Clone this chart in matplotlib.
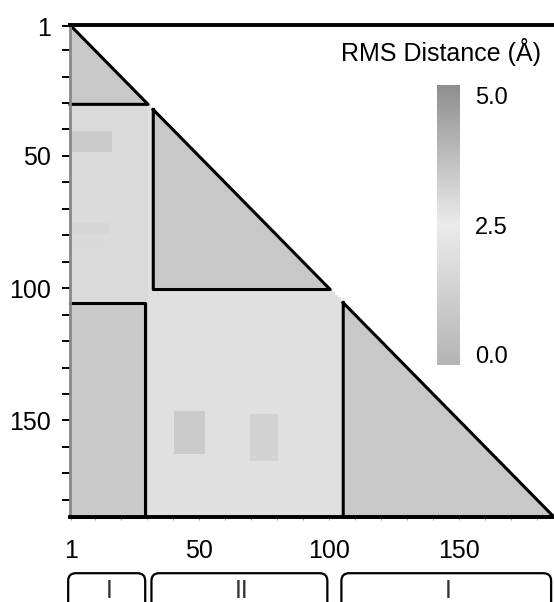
import numpy as np
import matplotlib
matplotlib.use("Agg")
import matplotlib.pyplot as plt
from matplotlib.colors import LinearSegmentedColormap, Normalize
from matplotlib.patches import FancyBboxPatch
from matplotlib.ticker import MultipleLocator

plt.rcParams["font.family"] = ["Liberation Sans", "DejaVu Sans"]

# Residues and domain layout (domain I is split: N-term + C-term)
n_res = 186
domain_labels = ["I", "II", "I"]
domain_start = [1, 33, 106]
domain_end = [30, 100, 186]

# block RMS values (Angstrom)
rms_intra = 0.8          # inside each domain triangle
rms_dom1_nc = 0.9        # N-term I vs C-term I rectangle
rms_dom1_dom2 = 1.7      # N-term I vs II
rms_other = 2.0          # everything else (II vs C-term I)

# darker patches: row range, column range, value
patch_rows = [(41, 48), (76, 79), (82, 85), (147, 162), (148, 165), (117, 132)]
patch_cols = [(1, 16), (1, 15), (1, 13), (41, 52), (70, 80), (68, 75)]
patch_vals = [3.4, 3.1, 3.0, 3.4, 3.2, 2.8]

cbar_ticks = [0.0, 2.5, 5.0]

# Build matrix (rows = y residue, cols = x residue), lower triangle only
mat = np.full((n_res, n_res), rms_other)
s1, e1 = domain_start[0] - 1, domain_end[0]
s3, e3 = domain_start[2] - 1, domain_end[2]
mat[e1:s3, s1:e1] = rms_dom1_dom2
mat[s3:e3, s1:e1] = rms_dom1_nc
for s, e in zip(domain_start, domain_end):
    mat[s - 1:e, s - 1:e] = rms_intra
for (r0, r1), (c0, c1), v in zip(patch_rows, patch_cols, patch_vals):
    mat[r0 - 1:r1, c0 - 1:c1] = v
rows, cols = np.indices(mat.shape)
mat = np.where(rows >= cols, mat, np.nan)

cmap = LinearSegmentedColormap.from_list(
    "rms_gray", [(0.0, "#b4b4b4"), (0.5, "#ebebeb"), (1.0, "#8e8e8e")])
cmap.set_bad("white")
norm = Normalize(vmin=-0.2, vmax=5.2)

fig = plt.figure(figsize=(5.54, 6.02), dpi=100)
ax = fig.add_axes([70 / 554, 1 - 517 / 602, 484 / 554, 492 / 602])

im = ax.imshow(mat, cmap=cmap, norm=norm, aspect="auto", interpolation="nearest",
               extent=(0.5, n_res + 0.5, n_res + 0.5, 0.5))
ax.set_xlim(0.5, n_res + 0.5)
ax.set_ylim(n_res + 0.5, 0.5)

# domain outlines
lw = 2.2
for s, e in zip(domain_start, domain_end):
    a, b = s - 0.5, e + 0.5
    if s == 1:
        ax.plot([a, b, a], [a, b, b], color="black", lw=lw, clip_on=False)
    else:
        ax.plot([a, b, a, a], [a, b, b, a], color="black", lw=lw, clip_on=False)
# N-term I vs C-term I rectangle
a, b = domain_start[0] - 0.5, domain_end[0] - 0.5
t, u = domain_start[2] - 0.5, domain_end[2] + 0.5
ax.plot([a, b, b, a], [t, t, u, u], color="black", lw=lw, clip_on=False)

ax.spines["right"].set_visible(False)
ax.spines["left"].set_color("#888888")
ax.spines["left"].set_linewidth(2)
ax.spines["top"].set_linewidth(2.8)
ax.spines["bottom"].set_linewidth(2.8)

ax.set_xticks([1, 50, 100, 150])
ax.set_yticks([1, 50, 100, 150])
ax.xaxis.set_minor_locator(MultipleLocator(10))
ax.yaxis.set_minor_locator(MultipleLocator(10))
ax.tick_params(axis="y", which="both", length=5.5, width=1.4, labelsize=18, pad=8)
ax.tick_params(axis="x", which="both", length=2.5, width=0.6, color="#888888",
               labelsize=18, pad=13)

# colorbar
cax = fig.add_axes([437 / 554, 1 - 365 / 602, 23 / 554, 280 / 602])
cbar = fig.colorbar(im, cax=cax, ticks=cbar_ticks, format="%.1f")
cbar.outline.set_visible(False)
cbar.ax.tick_params(length=0, labelsize=17, pad=11)
fig.text(441 / 554, 1 - 52 / 602, "RMS Distance (Å)", ha="center", va="center", fontsize=18)

# domain boxes under the x axis
bax = fig.add_axes([70 / 554, 0, 484 / 554, 32 / 602])
bax.set_xlim(0.5, n_res + 0.5)
bax.set_ylim(0, 1)
bax.axis("off")
for lab, s, e in zip(domain_labels, domain_start, domain_end):
    box = FancyBboxPatch((s - 1.2, -0.6), e - s + 0.6, 1.5,
                         boxstyle="round,pad=0,rounding_size=3", mutation_aspect=0.08,
                         fill=False, edgecolor="black", lw=1.6, clip_on=False)
    bax.add_patch(box)
    bax.text((s + e) / 2, 0.35, lab, ha="center", va="center", fontsize=18, color="#333333")

fig.savefig("out.png", dpi=100)
